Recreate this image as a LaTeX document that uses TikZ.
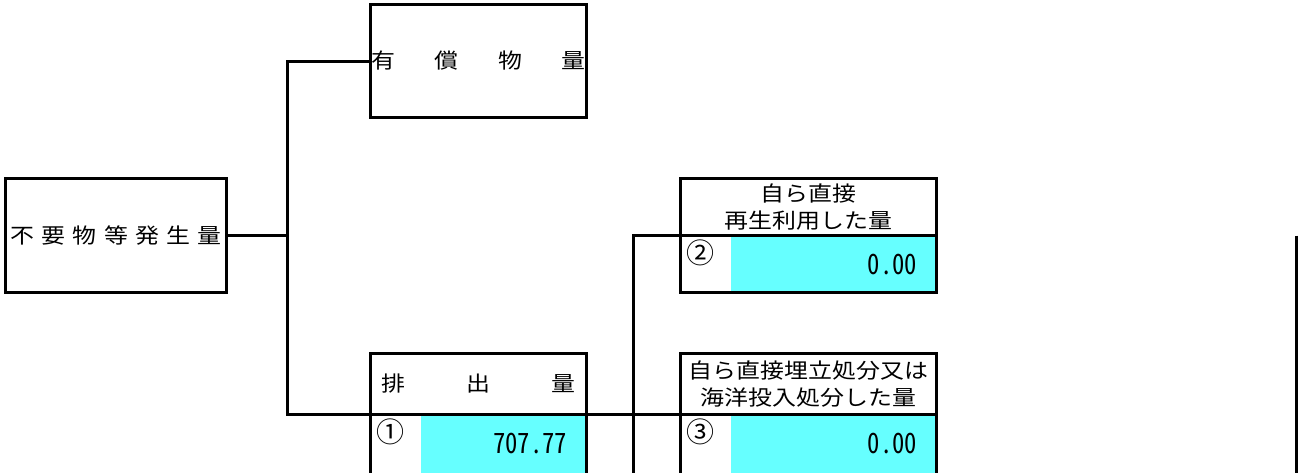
\documentclass[tikz,border=0pt]{standalone}
\usepackage{fontspec}
\newfontfamily\jpfont[FakeStretch=1.14]{Noto Sans CJK JP}
\newfontfamily\numfont[FakeStretch=0.88, RawFeature=+hwid]{Noto Sans CJK JP}
\newfontfamily\markfont{Noto Sans CJK JP}
\usetikzlibrary{positioning}
\definecolor{valcyan}{RGB}{102,255,255}
\newcommand{\spreadtext}[2]{\makebox[#1][s]{#2}}

\begin{document}
\begin{tikzpicture}[x=1pt, y=-1pt, line width=3pt,
    cell/.style={draw, rectangle, inner sep=0pt, outer sep=0pt, align=center,
        font=\jpfont\fontsize{21}{27}\selectfont},
    valcell/.style={cell, path picture={
        \fill[valcyan] ([xshift=50pt]path picture bounding box.north west)
            rectangle (path picture bounding box.south east);}},
    numtxt/.style={inner sep=0pt, anchor=east, font=\numfont\fontsize{28}{28}\selectfont},
    circnum/.style={inner sep=0pt, anchor=north west, font=\markfont\fontsize{28}{28}\selectfont}]
    % --- FRAME ---
    \useasboundingbox (0,0) rectangle (1300,472);
    \clip (0,0) rectangle (1300,472);

    % --- BOXES ---
    \node[cell, minimum width=221pt, minimum height=114pt] (gen) at (116,235.5)
        {\spreadtext{211pt}{不\hfill 要\hfill 物\hfill 等\hfill 発\hfill 生\hfill 量}};
    \node[cell, minimum width=216pt, minimum height=113pt] (yusho) at (478.5,61)
        {\spreadtext{214pt}{有\hfill 償\hfill 物\hfill 量}};

    % Discharged amount, header and value row
    \node[cell, minimum width=216pt, minimum height=61pt] (hai) at (478.5,384)
        {\spreadtext{194pt}{排\hfill 出\hfill 量}};
    \node[valcell, minimum width=216pt, minimum height=100pt, below=0pt of hai] (haival) {};

    % Direct reuse, header and value row
    \node[cell, minimum width=256pt, minimum height=57pt] (reuse) at (808.5,207)
        {自ら直接\\再生利用した量};
    \node[valcell, minimum width=256pt, minimum height=57pt, below=0pt of reuse] (reuseval) {};

    % Direct landfill or ocean disposal, header and value row
    \node[cell, minimum width=256pt, minimum height=61pt] (dispose) at (808.5,384)
        {自ら直接埋立処分又は\\海洋投入処分した量};
    \node[valcell, minimum width=256pt, minimum height=100pt, below=0pt of dispose] (disposeval) {};

    % --- VALUES ---
    \node[circnum] (haimark) at ([xshift=4pt, yshift=-3pt]haival.north west) {①};
    \node[numtxt] (hainum) at ([xshift=-18pt, yshift=-28.5pt]haival.north east) {707.77};
    \node[circnum] (reusemark) at ([xshift=4pt, yshift=-3pt]reuseval.north west) {②};
    \node[numtxt] (reusenum) at ([xshift=-18pt, yshift=-28.5pt]reuseval.north east) {0.00};
    \node[circnum] (disposemark) at ([xshift=4pt, yshift=-3pt]disposeval.north west) {③};
    \node[numtxt] (disposenum) at ([xshift=-18pt, yshift=-28.5pt]disposeval.north east) {0.00};

    % --- CONNECTORS ---
    \coordinate (fork) at (287.5,235.5);
    \coordinate (fork2) at (633.5,520);
    \draw (gen.east) -- (fork);
    \draw (yusho.west) -| (fork);
    \draw (hai.south west) -| (fork);
    \draw (hai.south east) -- (dispose.south west);
    \draw (reuse.south west) -| (fork2);

    % Edge of the next column, cut off at the right
    \coordinate (rimtop) at (1296.5,235.5);
    \coordinate (rimbot) at (1296.5,520);
    \draw (rimtop) -- (rimbot);

\end{tikzpicture}
\end{document}
